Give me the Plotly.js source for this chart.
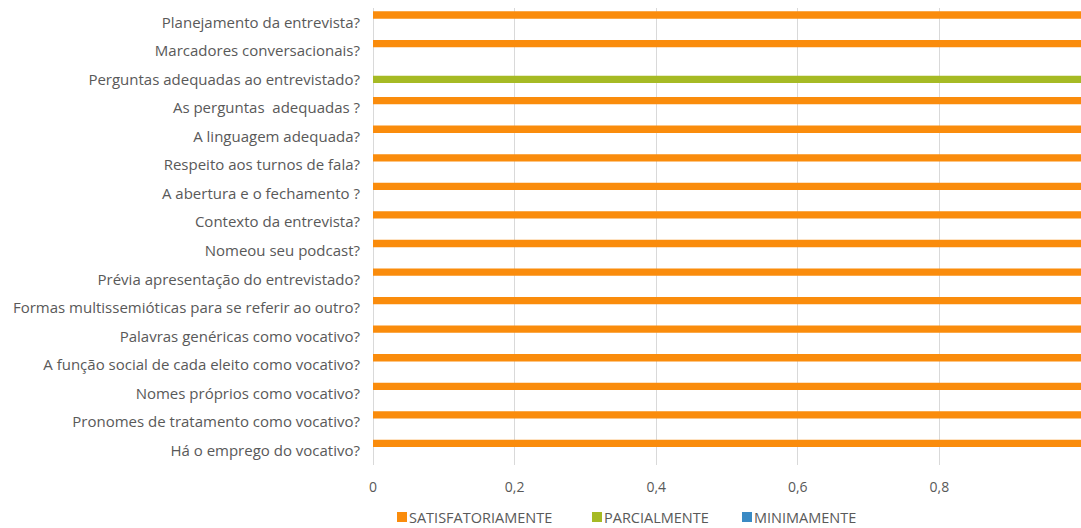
<!DOCTYPE html>
<html>
<head>
<meta charset="utf-8">
<script src="https://cdn.plot.ly/plotly-3.0.1.min.js"></script>
<style>html,body{margin:0;padding:0;background:#fff;}#chart{width:1081px;height:528px;}</style>
</head>
<body>
<div id="chart"></div>
<script>
// Categories listed top to bottom as they appear
const categories = [
  "Planejamento da entrevista?",
  "Marcadores conversacionais?",
  "Perguntas adequadas ao entrevistado?",
  "As perguntas  adequadas ?",
  "A linguagem adequada?",
  "Respeito aos turnos de fala?",
  "A abertura e o fechamento ?",
  "Contexto da entrevista?",
  "Nomeou seu podcast?",
  "Prévia apresentação do entrevistado?",
  "Formas multissemióticas para se referir ao outro?",
  "Palavras genéricas como vocativo?",
  "A função social de cada eleito como vocativo?",
  "Nomes próprios como vocativo?",
  "Pronomes de tratamento como vocativo?",
  "Há o emprego do vocativo?"
];
const satisfatoriamente = [1,1,0,1,1,1,1,1,1,1,1,1,1,1,1,1];
const parcialmente      = [0,0,1,0,0,0,0,0,0,0,0,0,0,0,0,0];
const minimamente       = [0,0,0,0,0,0,0,0,0,0,0,0,0,0,0,0];
const seriesNames = ["SATISFATORIAMENTE","PARCIALMENTE","MINIMAMENTE"];
const tickVals = [0,0.2,0.4,0.6,0.8];

const colors = ["#FA8C0C","#A6BA24","#3A8AC4"];
const vals = [satisfatoriamente, parcialmente, minimamente];
const traces = vals.map((v,i)=>({
  type:'bar', orientation:'h', x:v, y:categories, name:seriesNames[i],
  marker:{color:colors[i], line:{width:0}}, hoverinfo:'x+y', showlegend:false
}));

// Plot area geometry (pixels)
const W=1081, H=528, L=373, R=0, T=8, B=63;
const pw=W-L-R, ph=H-T-B;
const px2x = p => (p-L)/pw;
const py2y = p => (H-B-p)/ph;

// manual legend (square + label), positions in pixels
const legendY = 517;
const legendX = [397, 592, 742];
const shapes = [], annotations = [];
seriesNames.forEach((n,i)=>{
  shapes.push({type:'rect', xref:'paper', yref:'paper',
    x0:px2x(legendX[i]), x1:px2x(legendX[i]+10), y0:py2y(legendY+5), y1:py2y(legendY-5),
    fillcolor:colors[i], line:{width:0}});
  annotations.push({xref:'paper', yref:'paper', x:px2x(legendX[i]+11), y:py2y(legendY),
    xanchor:'left', yanchor:'middle', text:n, showarrow:false, borderpad:0,
    font:{size:14.5, color:'#595959'}});
});

const layout = {
  width:W, height:H,
  margin:{l:L, r:R, t:T, b:B, autoexpand:false},
  paper_bgcolor:'#fff', plot_bgcolor:'#fff',
  separators:',.',
  barmode:'group', bargap:0.235, bargroupgap:0,
  font:{family:'Open Sans, sans-serif', size:14, color:'#595959'},
  xaxis:{range:[0,1], tickvals:tickVals, showgrid:true, gridcolor:'#D9D9D9', gridwidth:1,
    zeroline:true, zerolinecolor:'#D9D9D9', zerolinewidth:1, showline:false,
    ticks:'', ticklabelstandoff:12, tickfont:{size:14, color:'#595959'}, automargin:false},
  yaxis:{type:'category', autorange:'reversed', showgrid:false, zeroline:false, showline:false,
    ticks:'', ticklabelstandoff:12, tickfont:{size:15, color:'#595959'}, automargin:false},
  showlegend:false,
  shapes:shapes, annotations:annotations
};
Plotly.newPlot('chart', traces, layout, {displayModeBar:false, staticPlot:true});
</script>
</body>
</html>
